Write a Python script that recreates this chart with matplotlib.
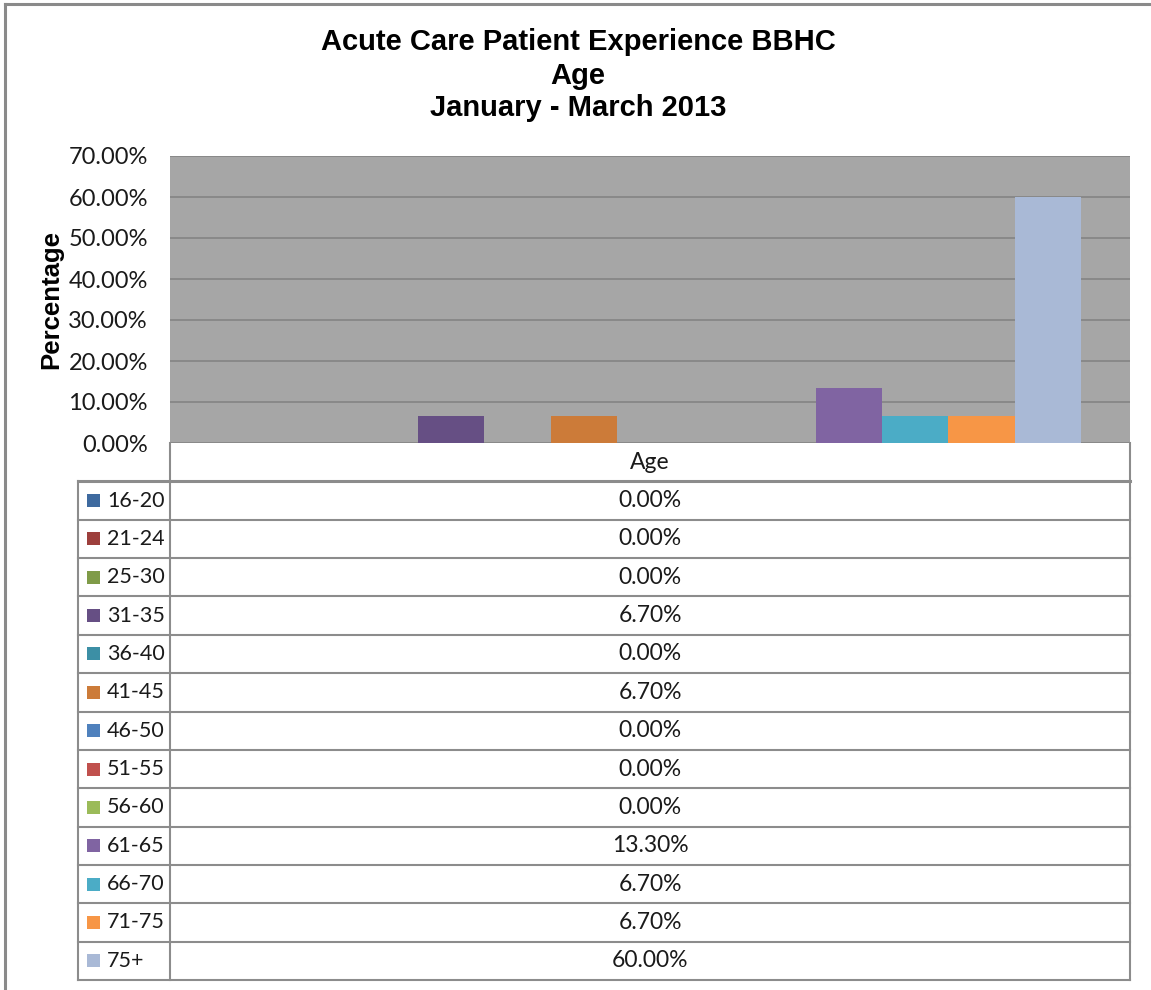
import matplotlib
matplotlib.use("Agg")
import matplotlib.pyplot as plt
from matplotlib.patches import Rectangle
from matplotlib.lines import Line2D

# data
age_groups = ["16-20", "21-24", "25-30", "31-35", "36-40", "41-45", "46-50",
              "51-55", "56-60", "61-65", "66-70", "71-75", "75+"]
percentages = [0.0, 0.0, 0.0, 6.7, 0.0, 6.7, 0.0, 0.0, 0.0, 13.3, 6.7, 6.7, 60.0]
category = "Age"
y_ticks = [0, 10, 20, 30, 40, 50, 60, 70]

colors = ["#3E6A9F", "#9D3F3C", "#7F9B48", "#664F84", "#3C8FA5", "#CC7B39",
          "#4F81BD", "#C0504D", "#9BBB59", "#8064A2", "#4BACC6", "#F79646",
          "#A9B9D6"]

W, H = 1151, 990
fig = plt.figure(figsize=(W / 100, H / 100), dpi=100)
fig.patch.set_facecolor("white")

body_font = "Lato"
title_font = "Liberation Sans"
grid_col = "#868686"
line_col = "#8C8C8C"
txt_col = "#1A1A1A"

# chart outer border (left and top only visible)
fig.add_artist(Line2D([5 / W, 5 / W], [0, 1 - 4 / H], color="#8A8A8A", lw=2.2))
fig.add_artist(Line2D([5 / W, 1], [1 - 4 / H, 1 - 4 / H], color="#8A8A8A", lw=2.2))

# titles
for txt, yp in [("Acute Care Patient Experience BBHC", 42),
                ("Age", 76), ("January - March 2013", 108)]:
    fig.text(578 / W, 1 - yp / H, txt, ha="center", va="center",
             fontsize=21, fontweight="bold", family=title_font)

# bar plot
px_l, px_r, px_t, px_b = 170, 1130, 156, 443
ax = fig.add_axes([px_l / W, 1 - px_b / H, (px_r - px_l) / W, (px_b - px_t) / H])
ax.set_facecolor("#A6A6A6")
n = len(age_groups)
bw = 0.898 / n
for i, (lab, val) in enumerate(zip(age_groups, percentages)):
    ax.bar((i - (n - 1) / 2) * bw, val, width=bw, color=colors[i],
           zorder=3, linewidth=0)
ax.set_xlim(-0.5, 0.5)
ax.set_ylim(0, 70)
ax.set_xticks([])
ax.set_yticks(y_ticks)
ax.set_yticklabels([f"{v:.2f}%" for v in y_ticks], family=body_font,
                   fontsize=17, color=txt_col)
ax.tick_params(axis="y", length=0, pad=16)
ax.yaxis.grid(True, color=grid_col, lw=1.3, zorder=1)
for s in ax.spines.values():
    s.set_visible(False)
ax.set_ylabel("Percentage", family=title_font, fontweight="bold", fontsize=18.5)
ax.yaxis.set_label_coords(-107 / (px_r - px_l), 0.5)

# data table
t_l, t_r, t_t, t_b = 78, 1130, 443, 980
tax = fig.add_axes([t_l / W, 1 - t_b / H, (t_r - t_l) / W, (t_b - t_t) / H])
tax.set_xlim(0, t_r - t_l)
tax.set_ylim(n + 1, 0)
tax.axis("off")
col_x = px_l - t_l
tw = t_r - t_l
# header cell
tax.plot([col_x, col_x], [0, n + 1], color=line_col, lw=1.5, clip_on=False)
tax.plot([tw, tw], [0, n + 1], color=line_col, lw=1.5, clip_on=False)
tax.plot([0, 0], [1, n + 1], color=line_col, lw=1.5, clip_on=False)
tax.plot([0, tw], [1, 1], color=line_col, lw=2.2, clip_on=False)
tax.text((col_x + tw) / 2, 0.5, category, ha="center", va="center",
         family=body_font, fontsize=16.5, color=txt_col)
for i, (lab, val) in enumerate(zip(age_groups, percentages)):
    r = i + 1
    tax.plot([0, tw], [r + 1, r + 1], color=line_col, lw=1.5, clip_on=False)
    tax.add_patch(Rectangle((9, r + 0.5 - 0.17), 13, 0.34, facecolor=colors[i],
                            edgecolor="none"))
    tax.text(29, r + 0.5, lab, ha="left", va="center", family=body_font,
             fontsize=15.5, color=txt_col)
    tax.text((col_x + tw) / 2, r + 0.5, f"{val:.2f}%", ha="center", va="center",
             family=body_font, fontsize=16.5, color=txt_col)

fig.savefig("out.png", dpi=100, facecolor="white")
plt.close(fig)
